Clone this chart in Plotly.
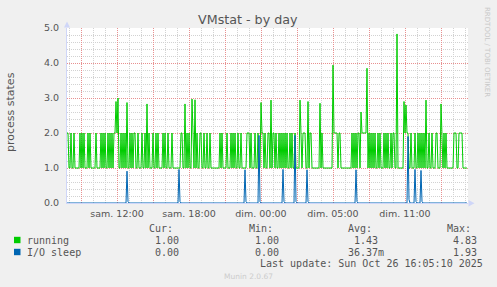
import plotly.graph_objects as go

# ---------------- data ----------------
# time axis: hours relative to "sam. 12:00"; one sample every 5 minutes
start_hour = -50 / 12
step_hours = 5 / 60

running = [
    2, 2, 1, 1, 2, 1, 1, 2, 1, 1,
    1, 1, 1, 2, 1, 2, 1, 2, 1, 1,
    1, 2, 1, 2, 1, 1, 1, 1, 1, 2,
    1, 1, 1, 1, 2, 1, 2, 1, 2, 1,
    1, 2, 1, 2, 1, 2, 1, 2, 2, 2.9,
    2, 3.0, 1, 1, 2, 1, 2, 1, 2, 1,
    2.87, 1, 1, 2, 1, 2, 1, 2, 2, 1,
    1, 2, 1, 1, 1, 2, 1, 1, 2, 1,
    2.83, 1, 2, 1, 1, 1, 2, 1, 1, 2,
    1, 2, 1, 1, 1, 1, 2, 1, 2, 1,
    1, 2, 1, 1, 1, 2, 1, 1, 1, 1,
    1, 1, 1, 1, 2, 2, 1, 1, 2.83, 1,
    2, 1, 2, 1, 1, 2.97, 2, 1, 2.95, 1,
    2, 1, 1, 2, 2, 1, 1, 2, 1, 1,
    2, 1, 1, 2, 1, 1, 1, 1, 1, 1,
    1, 1, 1, 2, 1, 2, 1, 1, 1, 1,
    2, 1, 1, 1, 2, 1, 2, 1, 2, 1,
    1, 2, 1, 1, 2, 1, 1, 1, 1, 1,
    2, 2, 2, 1, 2, 1, 1, 1, 2, 1,
    1, 2, 1, 1, 2.87, 2, 2, 1, 2, 1,
    1, 2, 2, 1, 2.94, 1, 2, 2, 1, 2,
    1, 1, 2, 1, 2, 1, 2, 1, 2, 1,
    2, 1, 1, 2, 1, 2, 1, 1, 2, 1,
    1, 1, 1, 2.94, 2, 1, 2, 2, 2, 1,
    1, 2.9, 1, 2, 2, 1, 1, 1, 1, 1,
    1, 1, 1, 2.85, 1, 2, 1, 1, 1, 1,
    1, 1, 1, 1, 1, 1, 3.94, 2, 2, 2,
    2, 1, 2, 2, 1, 1, 1, 1, 1, 1,
    1, 1, 1, 1, 1, 2, 1, 2, 1, 2,
    1, 2, 2, 1, 2.6, 2, 2, 2, 2, 2,
    3.85, 1, 2, 1, 2, 1, 2, 1, 2, 1,
    1, 2, 1, 2, 1, 1, 1, 2, 1, 2,
    1, 2, 1, 1, 2, 1, 2, 2, 1, 1,
    4.83, 1, 1, 1, 1, 1, 1, 2.9, 2, 2.8,
    2, 2, 1, 1, 2, 1, 1, 1, 2, 1,
    1, 2, 1, 2, 1, 2, 1, 2, 1, 2.94,
    1, 1, 2, 1, 1, 2, 1, 1, 1, 2,
    2, 1, 1, 1, 2.83, 2, 1, 2, 1, 2,
    1, 1, 1, 1, 1, 1, 1, 2, 2, 2,
    1, 1, 2, 2, 2, 2, 1, 1, 1, 1,
    1,
]

# I/O sleep is 0 except at these samples
io_sleep_steps = [60, 61, 112, 113, 178, 179, 192, 193, 216, 217, 228, 229,
                  240, 241, 289, 290, 341, 342, 348, 349, 354, 355]
io_sleep_vals = [0.91, 0.04, 0.96, 0.04, 0.95, 0.04, 1.93, 0.04, 0.96, 0.04, 1.93, 0.04,
                 0.95, 0.04, 0.95, 0.04, 1.90, 0.10, 0.96, 0.04, 0.93, 0.04]

x_tick_vals = [-3, 0, 3, 6, 9, 12, 15, 18, 21, 24, 27]
x_tick_text = ["", "sam. 12:00", "", "sam. 18:00", "", "dim. 00:00", "", "dim. 05:00", "", "dim. 11:00", ""]

series_names = ["running", "I/O sleep"]
series_colors = ["#00CC00", "#0066B3"]
stat_headers = ["Cur:", "Min:", "Avg:", "Max:"]
running_stats = ["1.00", "1.00", "1.43", "4.83"]
io_sleep_stats = ["0.00", "0.00", "36.37m", "1.93"]
last_update = "Last update: Sun Oct 26 16:05:10 2025"
title_text = "VMstat - by day"
y_title = "process states"

# ---------------- build ----------------
n = len(running)
times = [start_hour + i * step_hours for i in range(n)]
io_sleep = [0.0] * n
for s, v in zip(io_sleep_steps, io_sleep_vals):
    io_sleep[s] = v

W, H = 497, 287
L, R, T, B = 67, 29, 28, 84
PW, PH = W - L - R, H - T - B


def px(x):
    return (x - L) / PW


def py(y):
    return (H - B - y) / PH


FONT = "DejaVu Sans"
MONO = "DejaVu Sans Mono"
FC = "#555555"
AXIS = "#CFD6F8"
MAJOR = "#E89090"
MINOR = "#D2D2D2"

fig = go.Figure()
fig.add_trace(go.Scatter(x=times, y=running, mode="lines", name=series_names[0],
                         line=dict(color=series_colors[0], width=1), hoverinfo="skip"))
fig.add_trace(go.Scatter(x=times, y=io_sleep, mode="lines", name=series_names[1],
                         line=dict(color=series_colors[1], width=1), hoverinfo="skip"))

fig.update_layout(
    width=W, height=H, margin=dict(l=L, r=R, t=T, b=B),
    paper_bgcolor="#F0F0F0", plot_bgcolor="#FFFFFF",
    showlegend=False,
    font=dict(family=FONT, size=9.5, color=FC),
)
fig.update_xaxes(
    range=[start_hour, start_hour + PW / 12], tickmode="array",
    tickvals=x_tick_vals, ticktext=x_tick_text,
    showgrid=True, gridcolor=MAJOR, griddash="1px,1px", gridwidth=1,
    minor=dict(dtick=1, tick0=0, showgrid=True, gridcolor=MINOR, griddash="1px,1px", gridwidth=1),
    showline=True, linecolor=AXIS, linewidth=1,
    zeroline=False, ticks="", tickfont=dict(family=FONT, size=9.5, color=FC),
    ticklabelstandoff=2,
)
fig.update_yaxes(
    range=[0, 5], dtick=1, tick0=0, tickformat=".1f",
    showgrid=True, gridcolor=MAJOR, griddash="1px,1px", gridwidth=1,
    minor=dict(dtick=0.2, tick0=0, showgrid=True, gridcolor=MINOR, griddash="1px,1px", gridwidth=1),
    showline=True, linecolor=AXIS, linewidth=1,
    zeroline=False, ticks="", tickfont=dict(family=FONT, size=9.5, color=FC),
    ticklabelstandoff=5,
)

ann = []


def text(x, y, s, size=10, family=MONO, color=FC, xanchor="left", angle=0):
    ann.append(dict(x=px(x), y=py(y), xref="paper", yref="paper", text=s, showarrow=False,
                    xanchor=xanchor, yanchor="middle", textangle=angle,
                    font=dict(family=family, size=size, color=color),
                    borderpad=0, borderwidth=0))


text(248, 20, title_text, size=12.7, family=FONT, color="#555555", xanchor="center")
text(10, 112, y_title, size=11, family=FONT, xanchor="center", angle=-90)
text(487, 52, "RRDTOOL / TOBI OETIKER", size=7, family=FONT, color="#C8C8C8", xanchor="center", angle=90)

header_left = [149, 249, 348, 447]
value_right = [179, 279, 377.7, 476.7]
for hx, h in zip(header_left, stat_headers):
    text(hx, 228, h)
rows_y = [240, 252]
for name, ry in zip(series_names, rows_y):
    text(27, ry, name)
for stats, ry in zip([running_stats, io_sleep_stats], rows_y):
    for vr, v in zip(value_right, stats):
        extra = 6.0 if v[-1].isalpha() else 0.0
        text(vr + extra, ry, v, xanchor="right")
text(482.5, 263.5, last_update, xanchor="right")
text(248, 276, "Munin 2.0.67", size=7.5, family=FONT, color="#CCCCCC", xanchor="center")

shapes = []
for c, ry in zip(series_colors, rows_y):
    shapes.append(dict(type="rect", xref="paper", yref="paper",
                       x0=px(14), x1=px(20.5), y0=py(ry - 3.2), y1=py(ry + 3.2),
                       fillcolor=c, line=dict(width=0)))
# axis arrows
shapes.append(dict(type="path", xref="paper", yref="paper",
                   path=f"M {px(67)} {py(21.5)} L {px(64)} {py(27.5)} L {px(70)} {py(27.5)} Z",
                   fillcolor=AXIS, line=dict(width=0)))
shapes.append(dict(type="path", xref="paper", yref="paper",
                   path=f"M {px(474.5)} {py(203.3)} L {px(468.5)} {py(200)} L {px(468.5)} {py(206.6)} Z",
                   fillcolor=AXIS, line=dict(width=0)))

fig.update_layout(annotations=ann, shapes=shapes)
fig.write_html("out.html")
